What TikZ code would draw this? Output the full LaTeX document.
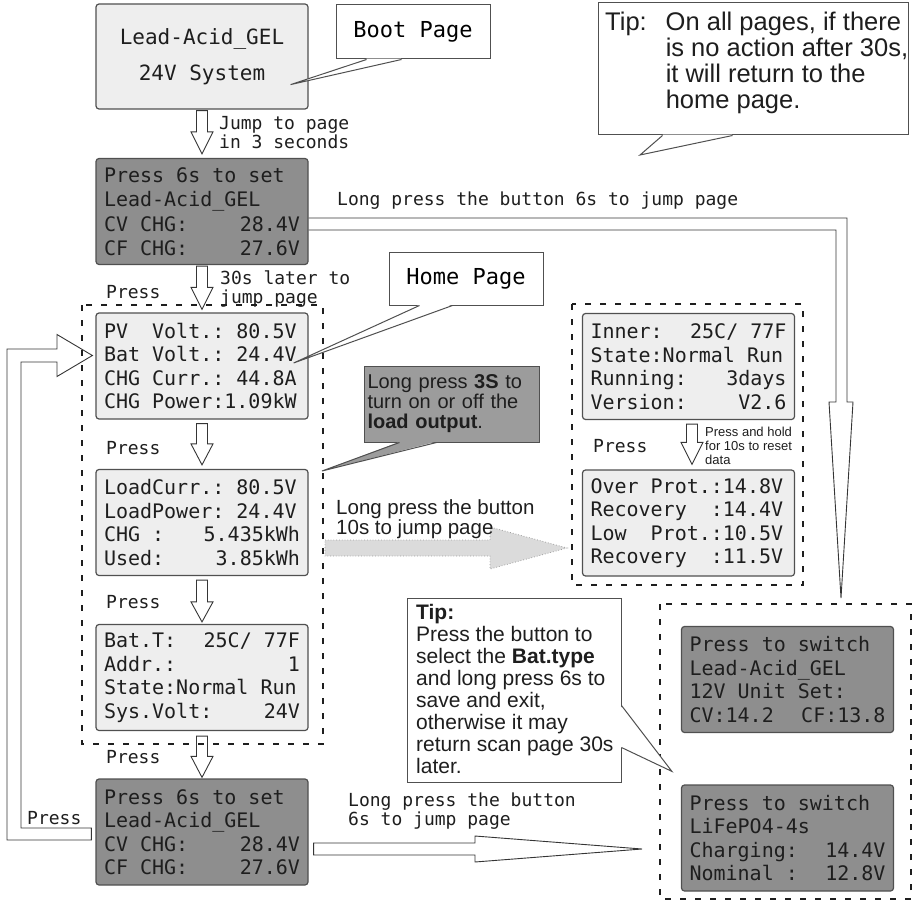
\documentclass[tikz,border=0pt]{standalone}
\usepackage{fontspec}
\setmainfont{Liberation Sans}
\newfontfamily\lcd{DejaVu Sans Mono}
\usetikzlibrary{calc}
\definecolor{lcdlight}{HTML}{EEEEEE}
\definecolor{lcddark}{HTML}{8E8E8E}
\definecolor{calloutgray}{HTML}{9C9C9C}
\definecolor{edge}{HTML}{505050}
\definecolor{ink}{HTML}{1E1E1E}
\newcommand\vblock[3]{%
  \draw[hollow] let \p1=(#1), \p2=(#2) in
    (\x1-5.5pt,\y1) -- (\x1-5.5pt,\y2+#3) -- (\x1-11pt,\y2+#3) -- (\x1,\y2)
    -- (\x1+11pt,\y2+#3) -- (\x1+5.5pt,\y2+#3) -- (\x1+5.5pt,\y1) -- cycle;}
\newcommand\lcdrow[1]{\hbox to 196pt{#1\hfil}}
\newcommand\lcdcrow[1]{\hbox to 196pt{\hfil#1\hfil}}
\newcommand\lcdfour[5][23.5pt]{\vbox{\baselineskip=#1\lineskiplimit=-20pt
  \lcdrow{#2}\lcdrow{#3}\lcdrow{#4}\lcdrow{#5}}}
\begin{document}
\begin{tikzpicture}[x=1pt,y=-1pt,
  lcdbox/.style={draw=edge, line width=1.2pt, rounded corners=3pt,
    minimum width=212pt, minimum height=106pt, inner sep=0pt, text=ink,
    font=\lcd\fontsize{20}{23.5}\selectfont},
  light/.style={lcdbox, fill=lcdlight},
  dark/.style={lcdbox, fill=lcddark},
  hollow/.style={draw=ink!90, line width=0.9pt, fill=white, line join=miter},
  grp/.style={draw=ink, line width=2.4pt, dash pattern=on 6pt off 9pt},
  lbl/.style={font=\lcd\fontsize{18}{19}\selectfont, text=ink, inner sep=0pt, align=left},
  callbox/.style={draw=edge, line width=1pt, fill=white, inner sep=0pt},
  tail/.style={draw=edge, line width=1pt},
  grayarr/.style={draw=gray!75, fill=gray!28, line width=0.8pt, dotted},
]
\useasboundingbox (0,0) rectangle (915,904);

% ---------- LCD pages ----------
\node[light, font=\lcd\fontsize{21}{36}\selectfont, minimum height=105pt]
  (boot) at (202,56.5) {\vbox{\baselineskip=36pt\lcdcrow{Lead-Acid\_GEL}\lcdcrow{24V~System}}};
\node[dark] (set1) at (202,211.5)
  {\lcdfour[24.5pt]{Press~6s~to~set}{Lead-Acid\_GEL}{CV~CHG:\hfill 28.4V}{CF~CHG:\hfill 27.6V}};
\node[light] (pv) at (202,366)
  {\lcdfour{PV~~Volt.:~80.5V}{Bat~Volt.:~24.4V}{CHG~Curr.:~44.8A}{CHG~Power:1.09kW}};
\node[light] (load) at (202,522.5)
  {\lcdfour{LoadCurr.:~80.5V}{LoadPower:~24.4V}{CHG~:\hfill 5.435kWh}{Used:\hfill 3.85kWh}};
\node[light] (batt) at (202,677.5)
  {\lcdfour{Bat.T:\hfill 25C/~77F}{Addr.:\hfill 1}{State:Normal~Run}{Sys.Volt:\hfill 24V}};
\node[dark] (fin) at (202,832)
  {\lcdfour{Press~6s~to~set}{Lead-Acid\_GEL}{CV~CHG:\hfill 28.4V}{CF~CHG:\hfill 27.6V}};
\node[light] (inner) at (688.5,366.5)
  {\lcdfour{Inner:\hfill 25C/~77F}{State:Normal~Run}{Running:\hfill 3days}{Version:\hfill V2.6}};
\node[light] (prot) at (688.5,523)
  {\lcdfour{Over~Prot.:14.8V}{Recovery~~:14.4V}{Low~~Prot.:10.5V}{Recovery~~:11.5V}};
\node[dark] (sw1) at (787.5,679.5)
  {\lcdfour{Press~to~switch}{Lead-Acid\_GEL}{12V~Unit~Set:}{CV:14.2\hfill CF:13.8}};
\node[dark] (sw2) at (787.5,838)
  {\lcdfour{Press~to~switch}{LiFePO4-4s}{Charging:\hfill 14.4V}{Nominal~:\hfill 12.8V}};

% ---------- down block arrows ----------
\coordinate (a1s) at ($(boot.south)+(0,1)$);  \coordinate (a1t) at ($(set1.north)+(0,-4)$);
\coordinate (a2s) at ($(set1.south)+(0,1)$);  \coordinate (a2t) at ($(pv.north)+(0,-3)$);
\coordinate (a3s) at ($(pv.south)+(0,4)$);    \coordinate (a3t) at ($(load.north)+(0,-4)$);
\coordinate (a4s) at ($(load.south)+(0,4)$);  \coordinate (a4t) at ($(batt.north)+(0,-2)$);
\coordinate (a5s) at ($(batt.south)+(0,5)$);  \coordinate (a5t) at ($(fin.north)+(0,-1)$);
\coordinate (a6s) at ($(inner.south)+(3.5,4)$); \coordinate (a6t) at ($(prot.north)+(3.5,-5)$);
\vblock{a1s}{a1t}{22pt}
\vblock{a2s}{a2t}{22pt}
\vblock{a3s}{a3t}{21pt}
\vblock{a4s}{a4t}{20pt}
\vblock{a5s}{a5t}{21pt}
\vblock{a6s}{a6t}{22pt}

% ---------- long arrow from set page to battery type pages ----------
\coordinate (longtip) at (841,598);
\draw[hollow, fill=none] ($(set1.east)+(0,6.5)$) -- (847,218) -- (847,402) -- (853,402)
  -- (longtip) -- (829,402) -- (836,402) -- (836,230) -- ($(set1.east)+(0,18.5)$);

% ---------- return arrow to home page ----------
\draw[hollow, fill=none] ($(fin.west)+(-4,-4)$) -- (21,828) -- (21,362) -- (57,362)
  -- (57,376.5) -- ($(pv.west)+(-3,-10.5)$) -- (57,334.5) -- (57,349) -- (7,349)
  -- (7,840) -- ($(fin.west)+(-4,8)$) -- cycle;

% ---------- bottom arrow ----------
\coordinate (bottip) at (642,849);
\draw[hollow] ($(fin.east)+(5,11)$) -- (475,843) -- (475,836) -- (bottip)
  -- (475,862) -- (475,855) -- ($(fin.east)+(5,23)$) -- cycle;

% ---------- gray dotted arrow ----------
\coordinate (graytip) at (567,548);
\draw[grayarr] (325,540) -- (490,540) -- (490,527) -- (graytip) -- (490,569)
  -- (490,556) -- (325,556) -- cycle;

% ---------- dashed groups ----------
\draw[grp] (82,305) rectangle (323,744);
\draw[grp] (572,304) rectangle (803,585);
\draw[grp] (660,604) rectangle (911,899);

% ---------- labels ----------
\node[lbl, anchor=north west] (jump) at (219,116) {Jump~to~page\\in~3~seconds};
\node[lbl, anchor=north west] (later) at (220,271) {30s~later~to\\jump~page};
\node[lbl, anchor=west] (toplong) at (337,201) {Long press the button 6s to jump page};
\node[lbl, anchor=west] (p1) at (106,292) {Press};
\node[lbl, anchor=west] (p2) at (106,448) {Press};
\node[lbl, anchor=west] (p3) at (106,602) {Press};
\node[lbl, anchor=west] (p4) at (106,757) {Press};
\node[lbl, anchor=west] (p5) at (27,818) {Press};
\node[lbl, anchor=west] (p6) at (593,446) {Press};
\node[lbl, anchor=north west] (botlong) at (348,793) {Long press the button\\6s to jump page};
\node[anchor=north west, inner sep=0pt, align=left, text=ink,
  font=\fontsize{20.5}{20}\selectfont] (midlong) at (336,499.5)
  {Long press the button\\10s to jump page};
\node[anchor=north west, inner sep=0pt, align=left, text=ink,
  font=\fontsize{13}{14}\selectfont] (hold) at (705,427)
  {Press and hold\\for 10s to reset\\data};

% ---------- callouts ----------
\node[callbox, minimum width=154pt, minimum height=54pt,
  font=\lcd\fontsize{22}{22}\selectfont] (bootlbl) at (413,32) {Boot~Page};
\coordinate (bootptr) at ($(boot.south east)+(-18,-25)$);
\fill[white] ($(bootlbl.south west)+(31.5,-0.8)$) -- (bootptr) -- ($(bootlbl.south west)+(65.5,-0.8)$) -- cycle;
\draw[tail] ($(bootlbl.south west)+(31,0)$) -- (bootptr) -- ($(bootlbl.south west)+(66,0)$);

\node[callbox, minimum width=154pt, minimum height=53pt,
  font=\lcd\fontsize{22}{22}\selectfont] (homelbl) at (466,278.5) {Home~Page};
\coordinate (homeptr) at ($(pv.east)+(-15,-3)$);
\fill[white] ($(homelbl.south west)+(31.5,-0.8)$) -- (homeptr) -- ($(homelbl.south west)+(63.5,-0.8)$) -- cycle;
\draw[tail] ($(homelbl.south west)+(31,0)$) -- (homeptr) -- ($(homelbl.south west)+(64,0)$);

\node[callbox, fill=calloutgray, minimum width=175pt, minimum height=76pt,
  text width=168pt, align=left, text=ink, font=\fontsize{20}{20}\selectfont]
  (loadlbl) at (451.5,404) {Long press \textbf{3S} to\\turn on or off the\\\textbf{load output}.};
\coordinate (loadptr) at (322,471);
\fill[calloutgray] ($(loadlbl.south west)+(36.5,-0.8)$) -- (loadptr) -- ($(loadlbl.south west)+(72.5,-0.8)$) -- cycle;
\draw[tail] ($(loadlbl.south west)+(36,0)$) -- (loadptr) -- ($(loadlbl.south west)+(73,0)$);

\node[callbox, minimum width=310pt, minimum height=132pt] (tiptop) at (753,69) {};
\coordinate (tiptopptr) at (640,155);
\fill[white] ($(tiptop.south west)+(65.5,-0.8)$) -- (tiptopptr) -- ($(tiptop.south west)+(134.5,-0.8)$) -- cycle;
\draw[tail] ($(tiptop.south west)+(65,0)$) -- (tiptopptr) -- ($(tiptop.south west)+(135,0)$);
\node[anchor=north west, inner sep=0pt, text=ink, font=\fontsize{25.5}{25}\selectfont]
  (tiptoptext) at (605,11.5)
  {\begin{tabular}{@{}l@{\hspace{19pt}}l@{}}Tip:&On all pages, if there\\
   &is no action after 30s,\\ &it will return to the\\ &home page.\end{tabular}};

\node[callbox, minimum width=214pt, minimum height=184pt] (tipbot) at (514,690) {};
\coordinate (tipbotptr) at ($(sw2.north west)+(-9,-13)$);
\fill[white] ($(tipbot.south east)+(-0.8,-76.5)$) -- (tipbotptr) -- ($(tipbot.south east)+(-0.8,-35.5)$) -- cycle;
\draw[tail] ($(tipbot.south east)+(0,-77)$) -- (tipbotptr) -- ($(tipbot.south east)+(0,-35)$);
\node[anchor=north west, inner sep=0pt, align=left, text=ink,
  font=\fontsize{21}{22}\selectfont] (tipbottext) at (416,604)
  {\textbf{Tip:}\\Press the button to\\select the \textbf{Bat.type}\\and long press 6s to\\save and exit,\\otherwise it may\\return scan page 30s\\later.};
\end{tikzpicture}
\end{document}
